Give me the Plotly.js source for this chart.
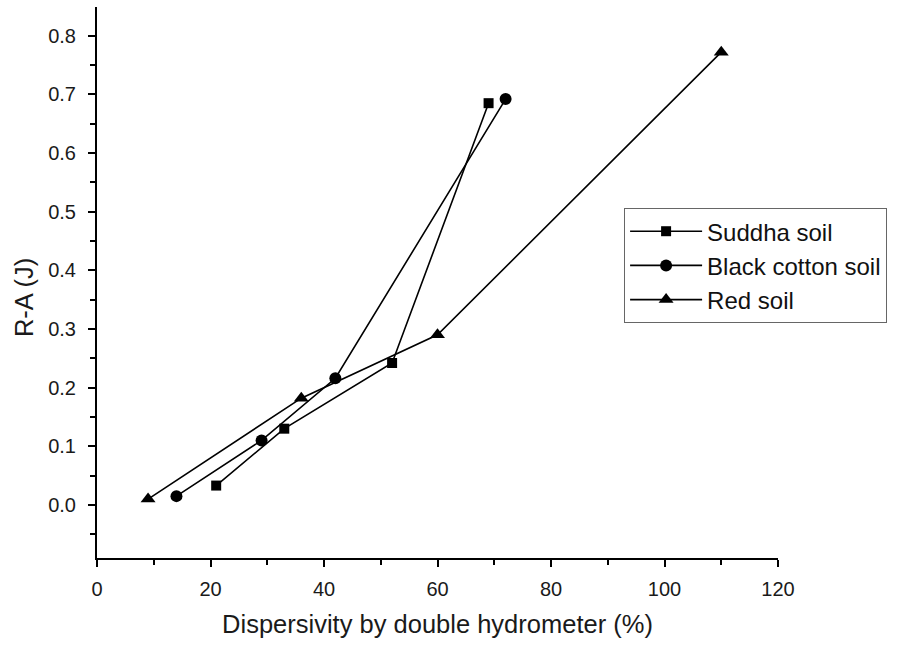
<!DOCTYPE html>
<html>
<head>
<meta charset="utf-8">
<script src="https://cdn.plot.ly/plotly-3.0.1.min.js"></script>
<style>html,body{margin:0;padding:0;background:#fff;}#chart{width:898px;height:645px;}</style>
</head>
<body>
<div id="chart"></div>
<script>
const seriesNames = ["Suddha soil", "Black cotton soil", "Red soil"];
const suddhaX = [21, 33, 52, 69];
const suddhaY = [0.033, 0.130, 0.242, 0.685];
const blackX = [14, 29, 42, 72];
const blackY = [0.015, 0.110, 0.216, 0.692];
const redX = [9, 36, 60, 110];
const redY = [0.010, 0.182, 0.290, 0.772];
const xTitle = "Dispersivity by double hydrometer (%)";
const yTitle = "R-A (J)";

const fontFam = "Liberation Sans, Arial, sans-serif";
function tr(name, x, y, symbol, size) {
  return {
    type: "scatter", mode: "lines+markers", name: name, x: x, y: y,
    line: {color: "#000", width: 1.6},
    marker: {symbol: symbol, size: size, color: "#000"}
  };
}
const data = [
  tr(seriesNames[0], suddhaX, suddhaY, "square", 10),
  tr(seriesNames[1], blackX, blackY, "circle", 12),
  tr(seriesNames[2], redX, redY, "triangle-up", 13)
];
const axisCommon = {
  showline: true, linecolor: "#000", linewidth: 2, mirror: false,
  showgrid: false, zeroline: false, ticks: "outside", ticklen: 7, tickwidth: 2,
  tickcolor: "#000", tickfont: {family: fontFam, size: 20, color: "#1a1a1a"}
};
const layout = {
  width: 898, height: 645,
  paper_bgcolor: "#fff", plot_bgcolor: "#fff",
  margin: {l: 97, r: 120, t: 7, b: 87, autoexpand: false},
  showlegend: true,
  legend: {
    x: 0.774, y: 0.635, xanchor: "left", yanchor: "top",
    bordercolor: "#666", borderwidth: 1,
    font: {family: fontFam, size: 24, color: "#111"},
    itemwidth: 72, tracegroupgap: 0
  },
  xaxis: Object.assign({}, axisCommon, {
    range: [0, 120], dtick: 20, tick0: 0, ticklabelstandoff: 5,
    minor: {dtick: 10, ticklen: 5, tickwidth: 2, tickcolor: "#000", ticks: "outside", showgrid: false},
    title: {text: xTitle, font: {family: fontFam, size: 25.5, color: "#1a1a1a"}, standoff: 16}
  }),
  yaxis: Object.assign({}, axisCommon, {
    range: [-0.0905, 0.849], dtick: 0.1, tick0: 0, tickformat: ".1f", ticklabelstandoff: 8,
    minor: {dtick: 0.05, ticklen: 5, tickwidth: 2, tickcolor: "#000", ticks: "outside", showgrid: false}
  }),
  annotations: [{
    text: yTitle, xref: "paper", yref: "paper", x: -0.107, y: 0.472,
    xanchor: "center", yanchor: "middle", textangle: -90, showarrow: false,
    font: {family: fontFam, size: 25.5, color: "#1a1a1a"}
  }]
};
Plotly.newPlot("chart", data, layout, {displayModeBar: false, staticPlot: true});
</script>
</body>
</html>
